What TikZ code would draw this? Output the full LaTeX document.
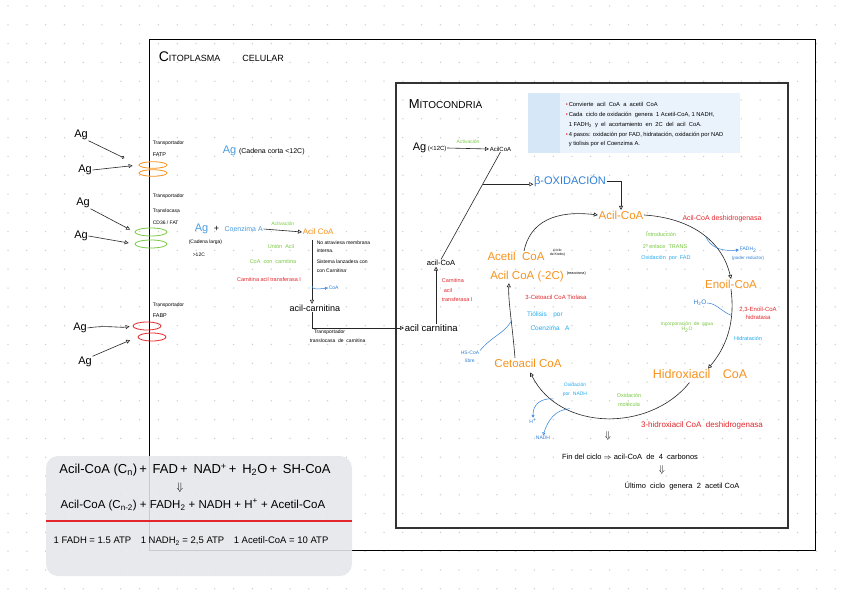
\documentclass[tikz,border=0pt]{standalone}
\usepackage{fontspec}
\setmainfont{Liberation Sans}
\usetikzlibrary{arrows.meta,shapes.geometric,calc}
\definecolor{orng}{HTML}{F7931E}
\definecolor{blu}{HTML}{2F80D8}
\definecolor{agb}{HTML}{4A9DE0}
\definecolor{lblu}{HTML}{22AAF0}
\definecolor{grn}{HTML}{7AC943}
\definecolor{rd}{HTML}{E3262B}
\definecolor{notebg}{HTML}{EAF3FC}
\definecolor{notestrip}{HTML}{D6E7F8}
\definecolor{eqbg}{HTML}{E4E7EA}
\definecolor{dotc}{HTML}{CDCDCD}
\begin{document}
\begin{tikzpicture}[x=1pt,y=-1pt,
  hand/.style={inner sep=0.8pt, outer sep=0pt},
  fs/.style={font=\linespread{1.15}\fontsize{#1}{#1}\selectfont},
  arr/.style={-{Triangle[open,length=4pt,width=4pt]}, line width=0.6pt, draw=black!85},
  ln/.style={line width=0.6pt, draw=black!85},
  blarr/.style={-{Triangle[open,length=3pt,width=3pt]}, line width=0.5pt, draw=blu},
  bln/.style={line width=0.5pt, draw=blu},
  ell/.style={ellipse, draw=#1, line width=0.8pt, minimum width=28pt, minimum height=6.5pt, inner sep=0pt}
]
\useasboundingbox (0,0) rectangle (848,599);
\fill[white] (0,0) rectangle (848,599);
\foreach \i in {0,...,45} \foreach \j in {0,...,32} \fill[dotc] (8+\i*18.8, 6+\j*18.8) circle[radius=0.75pt];

% boxes
\draw[line width=1pt] (149,40) rectangle (815,550);
\draw[line width=1.1pt, black!80] (396,83) rectangle (788,528);

% equation box
\node[fill=eqbg, fill opacity=0.88, rounded corners=12pt, minimum width=306pt, minimum height=120pt, inner sep=0pt] (eqbox) at (199,516) {};
\draw[rd, line width=1.6pt] (eqbox.west |- 0,521) -- (eqbox.east |- 0,521);
\node[hand, fs=13] (eq1) at (195,470) {Acil-CoA (C\textsubscript{n})\,+\, FAD\,+\, NAD\textsuperscript{+}\,+\, H\textsubscript{2}O\,+\, SH-CoA};
\node[hand, fs=11] (dn3) at (180,488) {$\Downarrow$};
\node[hand, fs=11.5] (eq2) at (193,505) {Acil-CoA (C\textsubscript{n-2}) + FADH\textsubscript{2} + NADH + H\textsuperscript{+} + Acetil-CoA};
\node[hand, fs=9.5] (eq3) at (191,541) {1 FADH = 1.5 ATP\quad 1 NADH\textsubscript{2} = 2,5 ATP\quad 1 Acetil-CoA = 10 ATP};

% note box
\node[fill=notebg, minimum width=212pt, minimum height=60pt, inner sep=0pt] (note) at (634,123) {};
\fill[notestrip] (note.north west) rectangle ([xshift=32pt]note.south west);
\node[hand, fs=5.8, anchor=base west] (n1) at (565,107) {{\color{rd}\textbullet}\,Convierte\ \ acil\ \ CoA\ \ a\ \ acetil\ \ CoA};
\node[hand, fs=5.8, anchor=base west] (n2) at (565,117) {{\color{rd}\textbullet}\,Cada\ \ ciclo\ de\ oxidación\ \ genera\ \ 1\ Acetil-CoA,\ 1\ NADH,};
\node[hand, fs=5.8, anchor=base west] (n3) at (568,127) {1\ FADH\textsubscript{2}\ \ y\ \ el\ \ acortamiento\ \ en\ \ 2C\ \ del\ \ acil\ \ CoA.};
\node[hand, fs=5.8, anchor=base west] (n4) at (565,136) {{\color{rd}\textbullet}\,4\ pasos: oxidación\ por\ FAD,\ hidratación,\ oxidación\ por\ NAD};
\node[hand, fs=5.8, anchor=base west] (n5) at (568,146) {y\ tiolisis\ por\ el\ Coenzima A.};

% titles
\node[hand, anchor=base west] (cyt) at (158,62) {{\fontsize{14}{14}\selectfont C}{\fontsize{9}{9}\selectfont ITOPLASMA\hspace{22pt}CELULAR}};
\node[hand, anchor=base west] (mit) at (408,109) {{\fontsize{13}{13}\selectfont M}{\fontsize{10}{10}\selectfont ITOCONDRIA}};

% left Ag groups
\node[hand, fs=11] (ag1) at (81,135) {Ag};
\node[hand, fs=11] (ag2) at (85,170) {Ag};
\node[hand, fs=11] (ag3) at (83,203) {Ag};
\node[hand, fs=11] (ag4) at (81,236) {Ag};
\node[hand, fs=11] (ag5) at (80,328) {Ag};
\node[hand, fs=11] (ag6) at (85,362) {Ag};
\node[ell=orng] (o1) at (153,165) {};
\node[ell=orng] (o2) at (153,173) {};
\node[ell=grn, minimum width=32pt, minimum height=8pt] (g1) at (151,232) {};
\node[ell=grn, minimum width=32pt, minimum height=8pt] (g2) at (151,244) {};
\node[ell=rd, minimum height=8pt] (r1) at (147,326) {};
\node[ell=rd, minimum height=8pt] (r2) at (152,337) {};
\draw[line width=0.6pt, draw=black!85, -{Circle[open,length=3pt]}, shorten >=16pt] (ag1.south east) -- (o1.west);
\draw[arr, shorten >=6pt] (ag2.east) -- (o1.west);
\draw[arr, shorten >=5pt] (ag3.south east) -- (g1.west);
\draw[arr, shorten >=6pt] (ag4.east) -- (g2.west);
\draw[arr, shorten >=3pt] (ag5.east) .. controls (105,325) and (120,328) .. (r1.west);
\draw[arr, shorten >=8pt] (ag6.north east) -- (r2.west);
\node[hand, fs=5, anchor=west] (tr1a) at (152,143) {Transportador};
\node[hand, fs=5.5, anchor=west] (tr1b) at (152,155) {FATP};
\node[hand, fs=5, anchor=west] (tr2a) at (152,196) {Transportador};
\node[hand, fs=5, anchor=west] (tr2b) at (152,211) {Translocasa};
\node[hand, fs=5, anchor=west] (tr2c) at (152,223) {CD36 / FAT};
\node[hand, fs=5, anchor=west] (tr3a) at (152,305) {Transportador};
\node[hand, fs=5.5, anchor=west] (tr3b) at (152,316) {FABP};

% cytoplasm middle
\node[hand, anchor=west] (agc) at (222,151) {{\fontsize{11}{11}\selectfont\color{agb}Ag}\ {\fontsize{7}{7}\selectfont (Cadena\ corta\ <12C)}};
\node[hand, anchor=west] (agl) at (194,229) {{\fontsize{11}{11}\selectfont\color{agb}Ag}\ \ {\fontsize{9}{9}\selectfont +}\ \ {\fontsize{7}{7}\selectfont\color{agb}Coenzima A}};
\node[hand, fs=5, anchor=north west, align=left] (cl) at (188,239) {(Cadena larga)\\[7pt]\hspace{4pt}>12C};
\node[hand, anchor=west, text=orng, fs=8] (acl) at (302,232) {Acil CoA};
\draw[arr] (agl.east) -- (acl.west) node[midway, above=1pt, fs=5, text=grn]{Activación};
\node[hand, fs=5.5, text=grn] (un1) at (281,247) {Unión\ \ Acil};
\node[hand, fs=5.5, text=grn] (un2) at (273,262) {CoA\ \ con\ \ carnitina};
\node[hand, fs=5.5, text=rd] (cat1) at (269,280) {Carnitina acil transferasa I};
\coordinate (v1) at (312,240);
\node[hand, fs=9] (acar) at (315,308) {acil-carnitina};
\draw[arr] (v1) -- (v1 |- acar.north) coordinate[pos=0.72] (c0);
\node[hand, fs=5, anchor=north west, align=left] (nat) at (316,240) {No atraviesa membrana\\[2.5pt]interna.\\[5.5pt]Sistema\ lanzadera con\\[2.5pt]con Carnitina};
\node[hand, fs=5, text=blu, anchor=west] (coa1) at (328,288) {CoA};
\draw[blarr] (c0) .. controls (312,290) and (318,289) .. (coa1.west);
\node[hand, fs=5, anchor=north west, align=left] (tt) at (309,329) {\hspace{4pt}Transportador\\[3pt]translocasa\ \ de\ \ carnitina};

% mitochondria
\node[hand, anchor=west] (agm) at (412,148) {{\fontsize{11}{11}\selectfont Ag}\,{\fontsize{6}{6}\selectfont (<12C)}};
\node[hand, anchor=west, fs=6] (acm2) at (489,149) {AcilCoA};
\draw[arr] (agm.east) -- (acm2.west) node[midway, above=1pt, fs=5, text=grn]{Activación};
\node[hand, fs=7.5] (ac3) at (441,263) {acil-CoA};
\draw[ln] (acm2.south) -- (ac3.north) coordinate[pos=0.3] (br);
\node[hand, fs=11, text=blu] (bo) at (570,181) {β-OXIDACIÓN};
\draw[arr] (br) -- (bo.west |- br);
\node[hand, fs=11.5, text=orng] (ac4) at (621,215) {Acil-CoA};
\draw[arr] (bo.east) -| (ac4.north);
\node[hand, fs=9.5, anchor=west] (acm) at (404,328) {acil carnitina};
\draw[arr] ([xshift=-3pt]acar.south) |- (acm.west);
\coordinate (ac3b) at ([xshift=-5pt]ac3.south);
\draw[arr] (ac3b |- acm.north) -- (ac3b);
\node[hand, fs=5.5, text=rd, anchor=north west, align=left] (cat2) at (441,278) {Carnitina\\[3pt]\hspace{2pt}acil\\[3pt]transferasa I};

\node[hand, fs=11.5, text=orng] (aceti) at (516,256) {Acetil\ \ CoA};
\node[hand, fs=3.5, anchor=west, align=center] (kreb) at (549,253) {(ciclo\\de Krebs)};
\node[hand, fs=11.5, text=orng] (acil2) at (527,277) {Acil\ CoA\ (-2C)};
\node[hand, fs=3.8, anchor=west] (reac) at (566,274) {(reacciona)};
\draw[arr] ([xshift=8pt]aceti.north) .. controls (530,222) and (555,210) .. (ac4.west);

\node[hand, fs=7, text=rd] (acdh) at (722,219) {Acil-CoA deshidrogenasa};
\node[hand, fs=5.5, text=grn] (intro1) at (661,235) {Introducción};
\node[hand, fs=5.5, text=grn] (intro2) at (665,247) {2º\ enlace\ \ TRANS};
\node[hand, fs=5.5, text=lblu] (oxf) at (666,258) {Oxidación\ \ por\ \ FAD};
\node[hand, fs=11.5, text=orng] (en) at (731,284) {Enoil-CoA};
\draw[arr] (ac4.east) .. controls (690,218) and (722,240) .. (en.north) coordinate[pos=0.55] (c1);
\node[hand, fs=5, text=blu, anchor=west] (fadh) at (739,250) {FADH\textsubscript{2}};
\node[hand, fs=4.5, text=blu] (pr) at (748,258) {(poder reductor)};
\draw[blarr] (c1) .. controls (712,250) and (725,251) .. (fadh.west);

\node[hand, fs=6.5, text=blu] (h2o) at (700,303) {H\textsubscript{2}O};
\node[hand, fs=6, text=rd, align=center] (ech) at (758,313) {2,3-Enoil-CoA\\[1pt]hidratasa};
\node[hand, fs=5, text=grn, align=center] (inc) at (687,327) {Incorporación\ \ de\ \ agua\\H\textsubscript{2}O};
\node[hand, fs=5.5, text=lblu] (hidr) at (748,338) {Hidratación};
\node[hand, fs=12.5, text=orng] (hid) at (700,374) {Hidroxiacil\quad CoA};
\draw[arr] (en.south) .. controls (735,320) and (728,345) .. ([xshift=8pt]hid.north) coordinate[pos=0.3] (c2);
\draw[bln] (h2o.east) .. controls (716,303) and (722,312) .. (c2);

\node[hand, fs=11.5, text=orng] (cet) at (528,363) {Cetoacil\ CoA};
\draw[arr, shorten >=5pt, shorten <=4pt] ([xshift=-8pt]hid.south) .. controls (650,432) and (560,432) .. (cet.south) coordinate[pos=0.8] (c5) coordinate[pos=0.7] (c6);
\node[hand, fs=5, text=lblu, align=center] (oxn) at (575,390) {Oxidación\\[3pt]por\ \ NADH};
\node[hand, fs=5.5, text=grn, align=center] (oxm) at (629,400) {Oxidación\\[2pt]molécula};
\node[hand, fs=5, text=blu] (hp) at (533,421) {H\textsuperscript{+}};
\node[hand, fs=5, text=blu] (nadh) at (543,438) {NADH};
\draw[blarr] (c5) .. controls (540,398) and (533,405) .. (hp.north);
\draw[blarr] (c6) .. controls (555,410) and (548,420) .. (nadh.north);
\node[hand, fs=8, text=rd] (hdh) at (702,425) {3-hidroxiacil\ CoA\ \ deshidrogenasa};
\node[hand, fs=10] (dn1) at (608,436) {$\Downarrow$};
\node[hand, fs=7.5] (fin) at (630,457) {Fin\ del\ ciclo $\Rightarrow$ acil-CoA\ \ de\ \ 4\ \ carbonos};
\node[hand, fs=10] (dn2) at (662,470) {$\Downarrow$};
\node[hand, fs=7.5] (ult) at (682,486) {Último\ \ ciclo\ \ genera\ \ 2\ \ acetil\ CoA};

\node[hand, fs=5, text=blu, align=center] (hs) at (470,357) {HS-CoA\\[2pt]libre};
\draw[arr] ([xshift=-13pt]cet.north) .. controls (512,322) and (508,300) .. ([xshift=-18pt]acil2.south) coordinate[pos=0.4] (c4);
\draw[bln] (hs.north east) .. controls (492,336) and (505,333) .. (c4);
\node[hand, fs=6, text=rd] (tio) at (556,297) {3-Cetoacil\ CoA\ Tiolasa};
\node[hand, fs=6.5, text=lblu] (tl1) at (545,315) {Tiólisis\quad por};
\node[hand, fs=6.5, text=lblu] (tl2) at (550,328) {Coenzima\ \ \ A};
\end{tikzpicture}
\end{document}
